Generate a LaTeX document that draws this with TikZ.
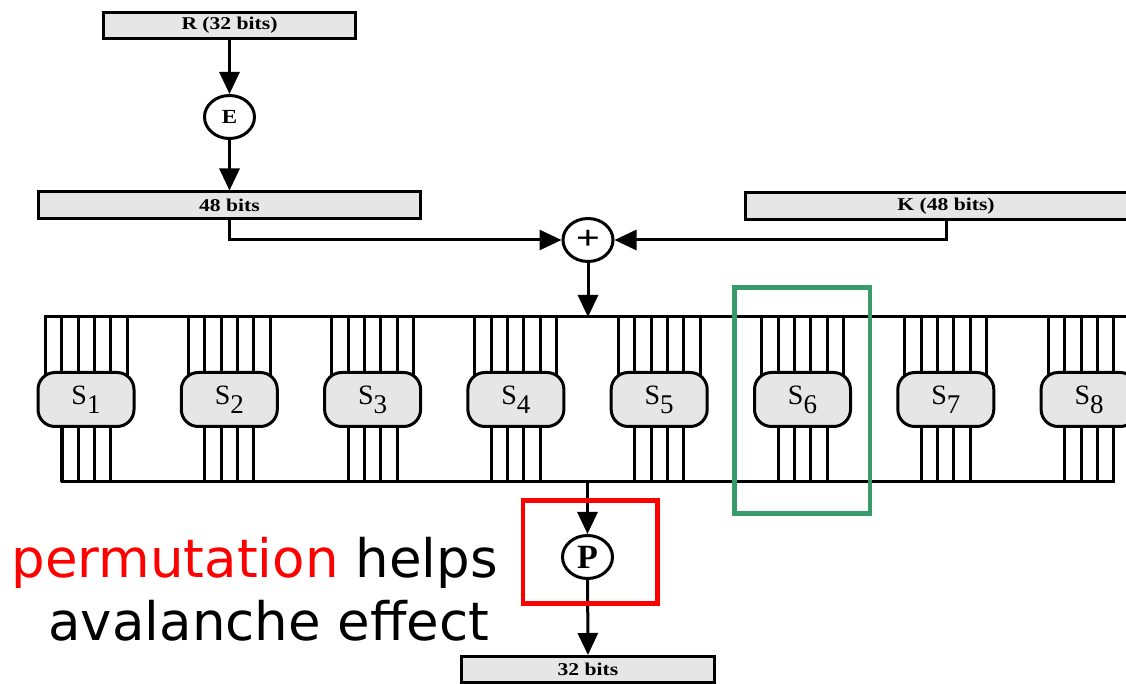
\documentclass[tikz,border=0pt]{standalone}
\usepackage{fontspec}
\setmainfont{Liberation Serif}
\newfontfamily\annotfont{DejaVu Sans}
\usetikzlibrary{arrows.meta,shapes.geometric}
\definecolor{boxgray}{RGB}{230,230,230}
\definecolor{hlgreen}{RGB}{58,155,106}
\definecolor{hlred}{RGB}{255,0,0}
\begin{document}
\begin{tikzpicture}[x=0.5pt,y=-0.5pt,line width=1.5pt,
  bitbox/.style={draw,fill=boxgray,rectangle,inner sep=0pt,font=\fontsize{9}{9}\selectfont\bfseries},
  opnode/.style={draw,fill=white,ellipse,inner sep=0pt,minimum width=25pt,minimum height=21.5pt},
  sbox/.style={draw,fill=boxgray,rounded corners=8.5pt,minimum width=48pt,minimum height=27pt,inner sep=0pt,font=\fontsize{14}{14}\selectfont},
  arr/.style={-{Triangle[length=11pt,width=10pt]}},
  hlbox/.style={line width=2.25pt},
  annot/.style={font=\annotfont\fontsize{26.5}{31}\selectfont,inner sep=0pt,anchor=base west}]
\useasboundingbox (0,0) rectangle (1126,684);
\clip (0,0) rectangle (1126,684);
\fill[white] (0,0) rectangle (1126,684);

% top part
\node[bitbox,minimum width=126pt,minimum height=13pt] (R) at (229.5,25.5) {\scalebox{1.2}[1]{R (32 bits)}};
\node[opnode] (E) at (229.5,117) {\fontsize{10}{10}\selectfont\bfseries\scalebox{1.15}[1]{E}};
\node[bitbox,minimum width=191pt,minimum height=13.5pt] (B48) at (229.5,205.5) {\scalebox{1.2}[1]{48 bits}};
\node[bitbox,minimum width=201pt,minimum height=13.5pt] (K) at (946,206) {\scalebox{1.2}[1]{K (48 bits)}};
\node[opnode] (plus) at (588,240) {\fontsize{17}{17}\selectfont\bfseries\scalebox{1.25}[1]{+}};

\draw[arr] (R) -- (E);
\draw[arr] (E) -- (B48);
\draw[arr] (B48.south) |- (plus.west);
\draw[arr] (K.south) |- (plus.east);

% buses
\coordinate (topbus) at (588,317);
\coordinate (botbus) at (587.5,482);
\draw (45,385) -- (45,317) -- (1140,317);
\draw (62,415) -- (62,482) -- (1113.5,482) -- (1113.5,415);

% wires
\foreach \i in {1,...,8}{
  \pgfmathsetmacro{\sx}{86+143.3*(\i-1)}
  \foreach \d in {-41,-24.5,-8,8,24.5,41}{
    \draw (\sx+\d,317) -- (\sx+\d,385);
  }
  \foreach \d in {-24.5,-8,8,24.5}{
    \draw (\sx+\d,415) -- (\sx+\d,482);
  }
}
% S-boxes
\foreach \i in {1,...,8}{
  \pgfmathsetmacro{\sx}{86+143.3*(\i-1)}
  \node[sbox] (S\i) at (\sx,399.5) {S\raisebox{-4.5pt}{\fontsize{13.5}{13.5}\selectfont\i}};
}

\draw[arr] (plus) -- (topbus);

% bottom part
\node[opnode] (P) at (587.5,557) {\fontsize{17}{17}\selectfont\bfseries P};
\node[bitbox,minimum width=126.5pt,minimum height=13pt] (B32) at (588,669.5) {\scalebox{1.2}[1]{32 bits}};
\draw[arr] (botbus) -- (P);
\draw[arr] (P) -- (B32);

% highlights
\draw[hlbox,draw=hlgreen] (734.5,287.5) rectangle (870,513.5);
\draw[hlbox,draw=hlred] (523,500.5) rectangle (657.5,603.5);

% annotation
\node[annot] (t1) at (10,578) {\textcolor{hlred}{permutation} helps};
\node[annot] (t2) at (47,640) {avalanche effect};
\end{tikzpicture}
\end{document}
